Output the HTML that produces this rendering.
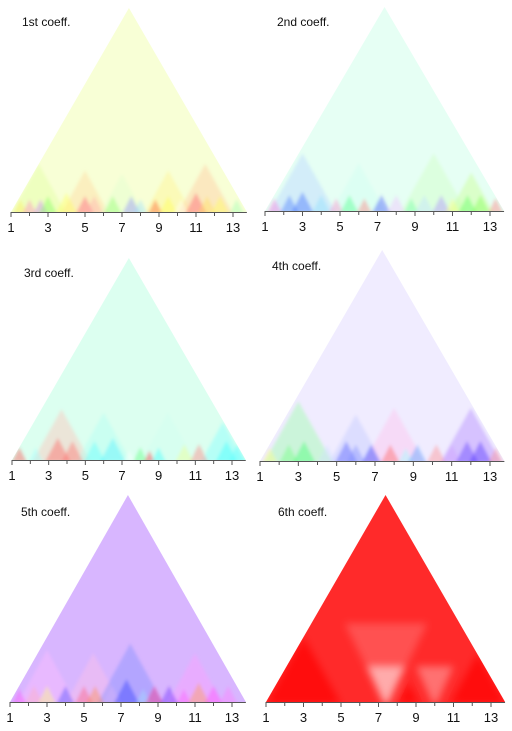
<!DOCTYPE html>
<html><head><meta charset="utf-8"><style>
html,body{margin:0;padding:0;background:#fff;}
svg{display:block;font-family:"Liberation Sans","DejaVu Sans",sans-serif;}
</style></head><body>
<svg id="fig" width="512" height="731" viewBox="0 0 512 731" xmlns="http://www.w3.org/2000/svg">
<defs>
<filter id="soft" x="-10%" y="-10%" width="120%" height="120%"><feGaussianBlur stdDeviation="1.6"/></filter>
<filter id="softer" x="-20%" y="-20%" width="140%" height="140%"><feGaussianBlur stdDeviation="4"/></filter>
</defs>
</svg>
<script>
// ---- data (blob centers in x units, half widths in x units, colors) ----
const tickValues = [1,2,3,4,5,6,7,8,9,10,11,12,13];
const tickLabels = ["1","3","5","7","9","11","13"];
const titles = ["1st coeff.","2nd coeff.","3rd coeff.","4th coeff.","5th coeff.","6th coeff."];
const baseColors = ["#f8ffd6","#e6fff4","#dcfff0","#f0ecff","#d8b6ff","#ff2a2a"];

const p1Pos = [2.5,5,7,9.5,11.5,1.5,2,2.6,3,4,5,5.5,6.5,7.5,8,8.8,9.5,10.2,11,11.6,12.3,13.2];
const p1Wid = [1.5,1.3,1.2,1.3,1.5,0.4,0.4,0.4,0.5,0.6,0.5,0.5,0.5,0.5,0.4,0.4,0.5,0.4,0.6,0.5,0.5,0.4];
const p1Col = ["#e0ffa0","#ffd8a0","#e0ffd0","#fff490","#ffc8a0","#ffee60","#ff90c0","#d080ff","#80ff60","#ffff60","#ff6080","#ffb0b0","#90ff70","#9090ff","#a0e0ff","#ff6030","#ffff50","#ffffff","#ff6070","#ffe060","#ffff60","#a0ffb0"];

const p2Pos = [3,6,10,12,1.5,2.3,3,4,4.8,5.5,6.3,7.2,8,8.8,9.5,10.4,11,11.8,12.5,13.3];
const p2Wid = [1.8,1.5,1.8,1.2,0.4,0.5,0.6,0.5,0.4,0.5,0.4,0.5,0.5,0.4,0.5,0.5,0.4,0.5,0.5,0.4];
const p2Col = ["#b8d4ff","#d0fff0","#d0ffc0","#c8ff90","#ff80e0","#5080ff","#4070ff","#90e0ff","#ff90d0","#50ff90","#ff8080","#4050ff","#f0c0ff","#70ffa0","#c0e0ff","#b090ff","#ffff80","#60ff60","#80ff50","#ff8080"];

const p3Pos = [3.7,6,9.5,12.5,1.4,2.3,3.5,4.3,5.5,6.5,7.4,8,8.5,9,10.4,11.2,12.7,13.3];
const p3Wid = [1.6,1.5,1.5,1.2,0.4,0.4,0.7,0.6,0.6,0.7,0.3,0.4,0.3,0.4,0.5,0.5,0.6,0.5];
const p3Col = ["#ffc0b8","#b0fff4","#d0fff0","#80ffff","#ff5050","#a0ffff","#ff6060","#ff7070","#60ffff","#50f0ff","#ffffff","#60ff80","#ff3040","#40ffff","#f0ff90","#ff8080","#40ffff","#60ffff"];

const p4Pos = [3,6,8,12,1.5,2.5,3.3,4.5,5.5,6,6.8,7.8,8.6,9.2,10.2,11,11.8,12.5,13.3];
const p4Wid = [1.8,1.4,1.6,1.6,0.4,0.5,0.6,0.5,0.6,0.5,0.5,0.5,0.4,0.5,0.5,0.5,0.6,0.6,0.4];
const p4Col = ["#98ffa8","#c0c8ff","#ffc0ec","#b088ff","#ffff80","#70ff80","#40ff70","#d0e0ff","#5060ff","#8090ff","#3040ff","#ff6060","#a0ffff","#50a0ff","#ff9090","#d0a0ff","#6040ff","#5030ff","#ff9090"];

const p5Pos = [3,5.5,7.5,11,1.5,2.3,3,4,5,5.6,6.5,7.3,8.2,8.8,9.6,10.4,11.2,12,12.8];
const p5Wid = [1.6,1.5,1.8,1.5,0.4,0.5,0.5,0.5,0.5,0.5,0.5,0.7,0.4,0.5,0.5,0.4,0.6,0.5,0.5];
const p5Col = ["#ffbcff","#ffc0e8","#8090ff","#ffa0ff","#ff50ff","#ffb0c0","#ffff80","#5050ff","#ff6080","#ff9050","#d0b0ff","#3040ff","#a0e0ff","#ff3080","#7030ff","#ff60ff","#ffa050","#ff50ff","#ff80ff"];

// 6th coeff: light V-shaped cones of influence opening upward (first three), dark red mounds (rest)
const p6Pos = [7.4,7.4,10,3,12.3,8.6];
const p6Wid = [2.2,1.0,1.0,2.0,1.5,0.6];
const p6Col = ["#ff8080","#ffe8e8","#ffa0a0","#ff0000","#ff0000","#ff0000"];

const blobPos = [p1Pos,p2Pos,p3Pos,p4Pos,p5Pos,p6Pos];
const blobWid = [p1Wid,p2Wid,p3Wid,p4Wid,p5Wid,p6Wid];
const blobCol = [p1Col,p2Col,p3Col,p4Col,p5Col,p6Col];

// ---- layout ----
const panels = [
 {x1:11, x13:233, axisY:212, apexY:8,  tx:22, ty:26},
 {x1:265,x13:490, axisY:211, apexY:7,  tx:277,ty:26},
 {x1:12, x13:232, axisY:460, apexY:258,tx:24, ty:277},
 {x1:260,x13:490, axisY:461, apexY:250,tx:272,ty:270},
 {x1:10, x13:232, axisY:702, apexY:495,tx:21, ty:516},
 {x1:266,x13:491, axisY:702, apexY:495,tx:278,ty:516}
];
const NS="http://www.w3.org/2000/svg";
const svg=document.getElementById('fig');
function mk(tag,attrs,parent){const e=document.createElementNS(NS,tag);for(const k in attrs)e.setAttribute(k,attrs[k]);(parent||svg).appendChild(e);return e;}

panels.forEach((p,i)=>{
  const unit=(p.x13-p.x1)/12;
  const xs=v=>p.x1+(v-1)*unit;
  const left=xs(1), right=xs(13.75), apexX=xs(7.375);
  const slope=(p.axisY-p.apexY)/(apexX-left);
  const H=p.axisY-p.apexY;
  const g=mk('g',{});
  
  
  const cp=mk('clipPath',{id:'clip'+i},g);
  mk('polygon',{points:`${left},${p.axisY} ${apexX},${p.apexY} ${right},${p.axisY}`},cp);
  const tri=mk('polygon',{points:`${left},${p.axisY} ${apexX},${p.apexY} ${right},${p.axisY}`,fill:baseColors[i]},g);
  
  
  const bg=mk('g',{'clip-path':`url(#clip${i})`},g);
  const inner=mk('g',{filter:i===5?'url(#softer)':'url(#soft)'},bg);
  const pos=blobPos[i],wid=blobWid[i],col=blobCol[i];
  pos.forEach((c,j)=>{
    const cx=xs(c), hw=wid[j]*unit;
    let pts, op=0.42;
    if(i===5){
      if(j<3){
        const topY=p.axisY-hw*slope*1.1;
        pts=`${cx-2},${p.axisY+2} ${cx-hw},${topY} ${cx+hw},${topY} ${cx+2},${p.axisY+2}`;
        op=j===0?0.45:0.6;
      } else {
        const h=hw*slope;
        pts=`${cx-hw},${p.axisY+2} ${cx},${p.axisY-h} ${cx+hw},${p.axisY+2}`;
        op=0.7;
      }
    } else {
      const h=hw*slope;
      pts=`${cx-hw},${p.axisY+2} ${cx},${p.axisY-h} ${cx+hw},${p.axisY+2}`;
    }
    const b=mk('polygon',{points:pts,fill:col[j],'fill-opacity':op},inner);
    
    
  });
  const ax=mk('line',{x1:left,y1:p.axisY+0.5,x2:right,y2:p.axisY+0.5,stroke:'#555','stroke-width':1},g);
  
  
  tickValues.forEach(v=>{
    const t=mk('line',{x1:xs(v),y1:p.axisY,x2:xs(v),y2:p.axisY+(v%2?5:4),stroke:'#555','stroke-width':1},g);
    
    
  });
  tickLabels.forEach(l=>{
    const t=mk('text',{x:xs(+l),y:p.axisY+20,'text-anchor':'middle','font-size':13,fill:'#111'},g);
    t.textContent=l;
    
    
  });
  const tt=mk('text',{x:p.tx,y:p.ty,'font-size':12,fill:'#111'},g);
  tt.textContent=titles[i];
  
  
});
</script>
</body></html>
